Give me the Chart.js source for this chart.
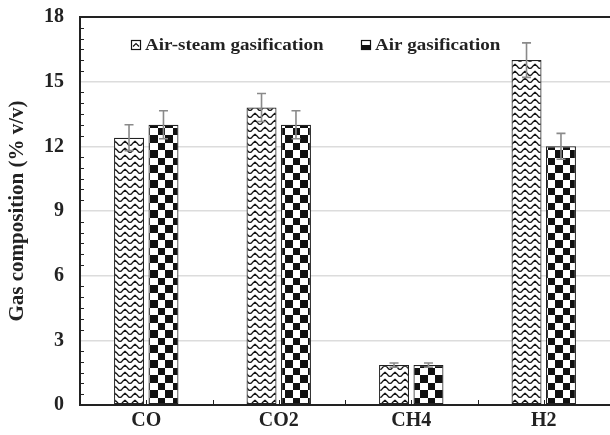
<!DOCTYPE html>
<html>
<head>
<meta charset="utf-8">
<script src="https://cdn.jsdelivr.net/npm/chart.js@4/dist/chart.umd.min.js"></script>
<style>
  html, body { margin: 0; padding: 0; background: #fff; overflow: hidden; }
  #wrap { width: 610px; height: 435px; }
</style>
</head>
<body>
<div id="wrap"><canvas id="c" width="610" height="435"></canvas></div>
<script>
// Gas composition by gasification mode
const categories = ['CO', 'CO2', 'CH4', 'H2'];
const seriesNames = ['Air-steam gasification', 'Air gasification'];
const airSteam = [12.4, 13.8, 1.85, 16.0];
const airSteamErr = [0.6, 0.65, 0.1, 0.8];
const air = [13.0, 13.0, 1.85, 12.0];
const airErr = [0.65, 0.65, 0.1, 0.6];
const yMin = 0, yMax = 18, yStep = 3, yMinorStep = 0.5;

const SERIF = '"Liberation Serif", "Times New Roman", serif';
const INK = '#222';

// Wavy hatch fill
function makeWave() {
  const t = document.createElement('canvas');
  t.width = 10; t.height = 7;
  const g = t.getContext('2d');
  g.fillStyle = '#fff'; g.fillRect(0, 0, 10, 7);
  g.strokeStyle = '#111'; g.lineWidth = 1.3; g.lineJoin = 'round';
  g.beginPath();
  g.moveTo(-0.5, 5.2);
  g.quadraticCurveTo(1.5, 5.8, 2.5, 3.5);
  g.lineTo(5, 1.2);
  g.lineTo(7.5, 3.5);
  g.quadraticCurveTo(8.5, 5.8, 10.5, 5.2);
  g.stroke();
  return g.createPattern(t, 'repeat');
}
// Checkerboard fill
function makeChecker() {
  const t = document.createElement('canvas');
  t.width = 15; t.height = 15;
  const g = t.getContext('2d');
  g.fillStyle = '#fff'; g.fillRect(0, 0, 15, 15);
  g.fillStyle = '#111';
  g.fillRect(0, 0, 8, 8);
  g.fillRect(8, 8, 7, 7);
  return g.createPattern(t, 'repeat');
}
const wave = makeWave();
const checker = makeChecker();

const errors = [airSteamErr, airErr];

const errorBars = {
  id: 'errorBars',
  afterDatasetsDraw(chart) {
    const ctx = chart.ctx, y = chart.scales.y;
    ctx.save();
    ctx.strokeStyle = '#8a8a8a';
    ctx.lineWidth = 1.6;
    chart.data.datasets.forEach((ds, i) => {
      const meta = chart.getDatasetMeta(i);
      meta.data.forEach((bar, j) => {
        const v = ds.data[j], e = errors[i][j];
        const yt = y.getPixelForValue(v + e), yb = y.getPixelForValue(v - e);
        ctx.beginPath();
        ctx.moveTo(bar.x, yt); ctx.lineTo(bar.x, yb);
        ctx.moveTo(bar.x - 4.5, yt); ctx.lineTo(bar.x + 4.5, yt);
        ctx.moveTo(bar.x - 4.5, yb); ctx.lineTo(bar.x + 4.5, yb);
        ctx.stroke();
      });
    });
    ctx.restore();
  }
};

const frame = {
  id: 'frame',
  afterDraw(chart) {
    const ctx = chart.ctx, a = chart.chartArea, x = chart.scales.x, y = chart.scales.y;
    ctx.save();
    ctx.strokeStyle = INK;
    ctx.lineWidth = 1;
    // inward minor ticks on the value axis
    ctx.beginPath();
    for (let v = yMin + yMinorStep; v < yMax - 1e-9; v += yMinorStep) {
      if (Math.abs(v / yStep - Math.round(v / yStep)) < 1e-6) continue;
      const py = Math.round(y.getPixelForValue(v)) + 0.5;
      ctx.moveTo(a.left, py); ctx.lineTo(a.left + 4, py);
    }
    ctx.stroke();
    // inward ticks on the category axis: boundaries and centres
    ctx.beginPath();
    const n = categories.length, w = (a.right - a.left) / n;
    for (let k = 1; k < n; k++) {
      const px = Math.round(a.left + k * w) + 0.5;
      ctx.moveTo(px, a.bottom); ctx.lineTo(px, a.bottom - 5);
    }
    categories.forEach((c, k) => {
      const px = Math.round(x.getPixelForValue(k)) + 0.5;
      ctx.moveTo(px, a.bottom); ctx.lineTo(px, a.bottom - 5);
    });
    ctx.stroke();

    // legend inside the plot
    const items = [
      { x: 131, label: seriesNames[0], kind: 'wave' },
      { x: 361, label: seriesNames[1], kind: 'checker' }
    ];
    const ly = 45;
    items.forEach(it => {
      ctx.fillStyle = '#fff';
      ctx.fillRect(it.x, ly - 5, 10, 10);
      ctx.strokeStyle = '#111';
      ctx.lineWidth = 1.2;
      ctx.strokeRect(it.x + 0.5, ly - 4.5, 9, 9);
      if (it.kind === 'wave') {
        ctx.beginPath();
        ctx.moveTo(it.x + 2, ly + 1.5);
        ctx.lineTo(it.x + 5, ly - 1.5);
        ctx.lineTo(it.x + 8, ly + 1.5);
        ctx.stroke();
      } else {
        ctx.fillStyle = '#111';
        ctx.fillRect(it.x + 1, ly, 8, 4);
      }
      ctx.save();
      ctx.translate(it.x + 14, ly);
      ctx.scale(1.12, 1);
      ctx.fillStyle = INK;
      ctx.font = 'bold 17px ' + SERIF;
      ctx.textBaseline = 'middle';
      ctx.textAlign = 'left';
      ctx.fillText(it.label, 0, 1);
      ctx.restore();
    });
    ctx.restore();
  }
};

new Chart(document.getElementById('c'), {
  type: 'bar',
  data: {
    labels: categories,
    datasets: [
      { label: seriesNames[0], data: airSteam, backgroundColor: wave, borderColor: INK, borderWidth: 1.2, borderSkipped: false },
      { label: seriesNames[1], data: air, backgroundColor: checker, borderColor: INK, borderWidth: 1.2, borderSkipped: false }
    ]
  },
  options: {
    responsive: false,
    animation: false,
    devicePixelRatio: 1,
    layout: { padding: { top: 17, right: 0, left: 0, bottom: 0 } },
    datasets: { bar: { categoryPercentage: 0.52, barPercentage: 0.87 } },
    plugins: { legend: { display: false }, tooltip: { enabled: false } },
    scales: {
      x: {
        grid: { display: false },
        border: { display: true, color: INK, width: 2 },
        ticks: { color: INK, font: { family: SERIF, size: 20, weight: 'bold' }, padding: -4 },
        afterFit(s) { s.height = 30; s.paddingLeft = 0; s.paddingRight = 0; }
      },
      // top frame line
      xTop: {
        type: 'category',
        position: 'top',
        labels: categories,
        grid: { display: false },
        border: { display: true, color: INK, width: 2 },
        ticks: { display: false },
        afterFit(s) { s.height = 0; s.paddingLeft = 0; s.paddingRight = 0; }
      },
      y: {
        min: yMin, max: yMax,
        grid: {
          drawTicks: false,
          lineWidth: 1.5,
          color: c => (c.tick && (c.tick.value === yMin || c.tick.value === yMax)) ? 'rgba(0,0,0,0)' : '#dcdcdc'
        },
        border: { display: true, color: INK, width: 2 },
        ticks: { stepSize: yStep, color: INK, font: { family: SERIF, size: 20, weight: 'bold' }, padding: 16 },
        title: {
          display: true, text: 'Gas composition (% v/v)', color: INK,
          font: { family: SERIF, size: 21, weight: 'bold' }, padding: { top: 5, bottom: 0 }
        },
        afterFit(s) { s.width = 80; s.paddingTop = 0; s.paddingBottom = 0; }
      }
    }
  },
  plugins: [errorBars, frame]
});
</script>
</body>
</html>
